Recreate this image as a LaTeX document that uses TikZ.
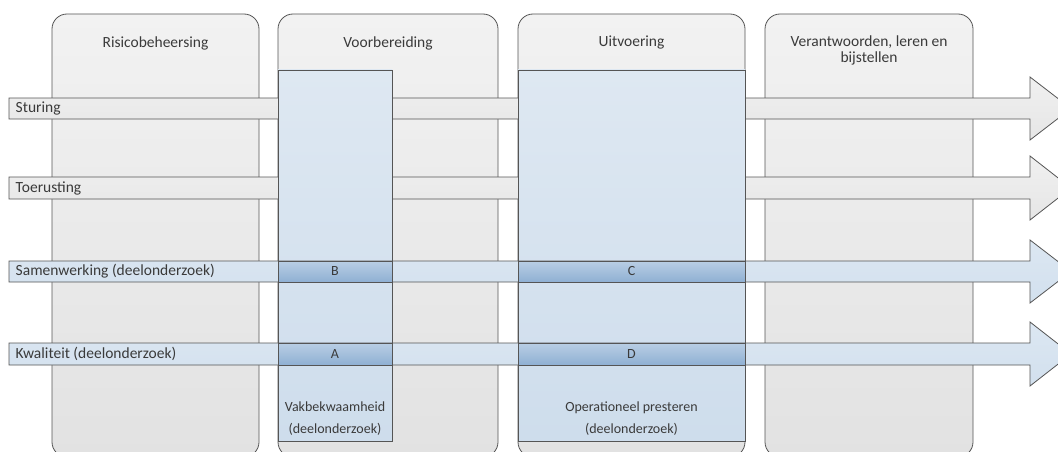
\documentclass[tikz,border=0pt]{standalone}
\usepackage{fontspec}
\setmainfont{Carlito}
\definecolor{colTop}{HTML}{F2F2F2}
\definecolor{colBot}{HTML}{E2E2E2}
\definecolor{bcTop}{HTML}{DEE8F2}
\definecolor{bcBot}{HTML}{CEDDEC}
\definecolor{gbTop}{HTML}{F0F0F0}
\definecolor{gbBot}{HTML}{E6E6E6}
\definecolor{bbTop}{HTML}{DCE7F2}
\definecolor{bbBot}{HTML}{D2E0EE}
\definecolor{ceTop}{HTML}{B9CEE4}
\definecolor{ceBot}{HTML}{8FB0D3}
\definecolor{ink}{HTML}{3A3A3A}
\definecolor{lineC}{HTML}{555555}
\begin{document}
\begin{tikzpicture}[x=1pt,y=-1pt,
  line width=0.8pt,
  edge/.style={draw=lineC},
  phase/.style={edge, rounded corners=15pt, top color=colTop, bottom color=colBot},
  bluecol/.style={edge, top color=bcTop, bottom color=bcBot},
  graybar/.style={edge, top color=gbTop, bottom color=gbBot},
  bluebar/.style={edge, top color=bbTop, bottom color=bbBot},
  cell/.style={edge, top color=ceTop, bottom color=ceBot, inner sep=0pt},
  txt/.style={text=ink, font=\fontsize{15.5}{16}\selectfont},
  small/.style={text=ink, font=\fontsize{14}{22}\selectfont, align=center},
]
\clip (0,0) rectangle (1058,452);
\fill[white] (0,0) rectangle (1058,452);

% phase columns
\path[phase] (52,14) rectangle (259,457);
\path[phase] (278,14) rectangle (498,457);
\path[phase] (518,14) rectangle (745,457);
\path[phase] (765,14) rectangle (973,457);
\node[txt] (h1) at (155.5,43) {Risicobeheersing};
\node[txt] (h2) at (388,43) {Voorbereiding};
\node[txt] (h3) at (631.5,43) {Uitvoering};
\node[txt, align=center] (h4) at (869,50.5) {Verantwoorden, leren en\\bijstellen};

% gray bars
\path[graybar] (9,98) -- (1030,98) -- (1030,77) -- (1071,108.5) -- (1030,140) -- (1030,119) -- (9,119) -- cycle;
\path[graybar] (9,177) -- (1030,177) -- (1030,156) -- (1071,188) -- (1030,220) -- (1030,199) -- (9,199) -- cycle;

% blue columns
\path[bluecol] (278,70) rectangle (392,441);
\path[bluecol] (518,70) rectangle (745,441);

% blue bars
\path[bluebar] (9,261) -- (1030,261) -- (1030,240) -- (1071,271.5) -- (1030,303) -- (1030,282) -- (9,282) -- cycle;
\path[bluebar] (9,343) -- (1030,343) -- (1030,322) -- (1071,354) -- (1030,386) -- (1030,365) -- (9,365) -- cycle;

% intersection cells
\node[cell, minimum width=114pt, minimum height=21pt] (B) at (335,271.5) {};
\node[cell, minimum width=227pt, minimum height=21pt] (C) at (631.5,271.5) {};
\node[cell, minimum width=114pt, minimum height=22pt] (A) at (335,354) {};
\node[cell, minimum width=227pt, minimum height=22pt] (D) at (631.5,354) {};
\node[small] at (B) {B};
\node[small] at (C) {C};
\node[small] at (A) {A};
\node[small] at (D) {D};

% bar labels
\node[txt, anchor=west] (s) at (12,108.5) {Sturing};
\node[txt, anchor=west] (t) at (12,188) {Toerusting};
\node[txt, anchor=west] (w) at (12,271.5) {Samenwerking (deelonderzoek)};
\node[txt, anchor=west] (k) at (12,354) {Kwaliteit (deelonderzoek)};

% bottom labels
\node[small] (v) at (335,419) {Vakbekwaamheid\\(deelonderzoek)};
\node[small] (o) at (631.5,419) {Operationeel presteren\\(deelonderzoek)};
\end{tikzpicture}
\end{document}
